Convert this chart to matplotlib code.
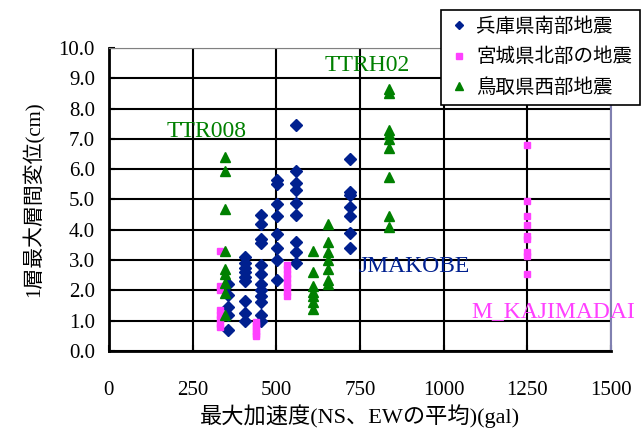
import matplotlib
matplotlib.use("Agg")
import matplotlib.pyplot as plt

plt.rcParams['font.family'] = ['Liberation Serif', 'Noto Sans CJK JP']

# 兵庫県南部地震 (JMAKOBE など)
hyogo_x = [355] * 5 + [407] * 9 + [455] * 12 + [501] * 8 + [558] * 9 + [719] * 7
hyogo_y = [2.2, 1.85, 1.45, 1.2, 0.7,
           3.1, 2.9, 2.75, 2.6, 2.45, 2.3, 1.65, 1.25, 1.0,
           4.5, 4.2, 3.7, 3.55, 2.85, 2.55, 2.2, 2.0, 1.8, 1.6, 1.2, 1.0,
           5.65, 5.5, 4.85, 4.45, 3.85, 3.4, 3.0, 2.35,
           7.45, 5.95, 5.55, 5.3, 4.9, 4.5, 3.6, 3.25, 2.9,
           6.35, 5.25, 5.15, 4.75, 4.45, 3.9, 3.4]

# 宮城県北部の地震 (M_KAJIMADAI など)
miyagi_x = [332] * 8 + [440] * 6 + [532] * 8 + [1250] * 9
miyagi_y = [3.3, 2.15, 2.0, 1.35, 1.2, 1.05, 0.9, 0.8,
            0.95, 0.85, 0.75, 0.65, 0.55, 0.5,
            2.85, 2.7, 2.55, 2.4, 2.25, 2.1, 1.95, 1.8,
            6.8, 4.95, 4.45, 4.15, 3.8, 3.7, 3.25, 3.15, 2.55]

# 鳥取県西部地震 (TTR008, TTRH02 など)
tottori_x = [347] * 9 + [611] * 7 + [653] * 7 + [837] * 9
tottori_y = [6.4, 5.95, 4.7, 3.3, 2.7, 2.55, 2.25, 1.9, 1.2,
             3.3, 2.6, 2.15, 1.95, 1.8, 1.6, 1.4,
             4.2, 3.6, 3.25, 3.0, 2.7, 2.35, 2.2,
             8.65, 8.5, 7.3, 7.15, 7.0, 6.7, 5.75, 4.45, 4.1]

blue = "#00208f"
pink = "#ff40ff"
green = "#008000"

fig = plt.figure(figsize=(6.44, 4.29), dpi=100)
ax = fig.add_axes([0.169, 0.182, 0.780, 0.706])

ax.plot(hyogo_x, hyogo_y, "D", color=blue, ms=6, ls="none", label="兵庫県南部地震", zorder=3)
ax.plot(miyagi_x, miyagi_y, "s", color=pink, ms=5, ls="none", label="宮城県北部の地震", zorder=3)
ax.plot(tottori_x, tottori_y, "^", color=green, ms=7, ls="none", label="鳥取県西部地震", zorder=3)

ax.set_xlim(0, 1500)
ax.set_ylim(0, 10)
ax.set_xticks(range(0, 1501, 250))
ax.set_yticks([i for i in range(11)])
ax.set_yticklabels(["%.1f" % i for i in range(11)])
ax.grid(True, color="black", lw=1.5)
ax.set_axisbelow(True)
ax.tick_params(axis="both", direction="in", labelsize=15, length=4, width=1.5)
ax.tick_params(axis="x", pad=22)
ax.tick_params(axis="y", pad=10)

ax.spines["left"].set_linewidth(2)
ax.spines["bottom"].set_linewidth(2)
ax.spines["top"].set_color("#808080")
ax.spines["right"].set_color("#8080b0")
ax.spines["right"].set_linewidth(1.5)

ax.set_xlabel("最大加速度(NS、EWの平均)(gal)", fontsize=16, labelpad=3)
ax.set_ylabel("1層最大層間変位(cm)", fontsize=15, labelpad=10)

ax.text(293, 7.23, "TTR008", color=green, fontsize=17, ha="center", va="center")
ax.text(772, 9.44, "TTRH02", color=green, fontsize=17, ha="center", va="center")
ax.text(912, 2.8, "JMAKOBE", color=blue, fontsize=17, ha="center", va="center")
ax.text(1328, 1.3, "M_KAJIMADAI", color=pink, fontsize=17, ha="center", va="center", clip_on=False)

leg = fig.legend(loc="upper left", bbox_to_anchor=(0.685, 0.977), fontsize=14,
                 frameon=True, fancybox=False, edgecolor="black", framealpha=1,
                 markerscale=0.75, handletextpad=0.4, handlelength=1.0,
                 borderpad=0.4, labelspacing=0.6, borderaxespad=0)
leg.get_frame().set_linewidth(1.2)

fig.savefig("out.png", dpi=100)
